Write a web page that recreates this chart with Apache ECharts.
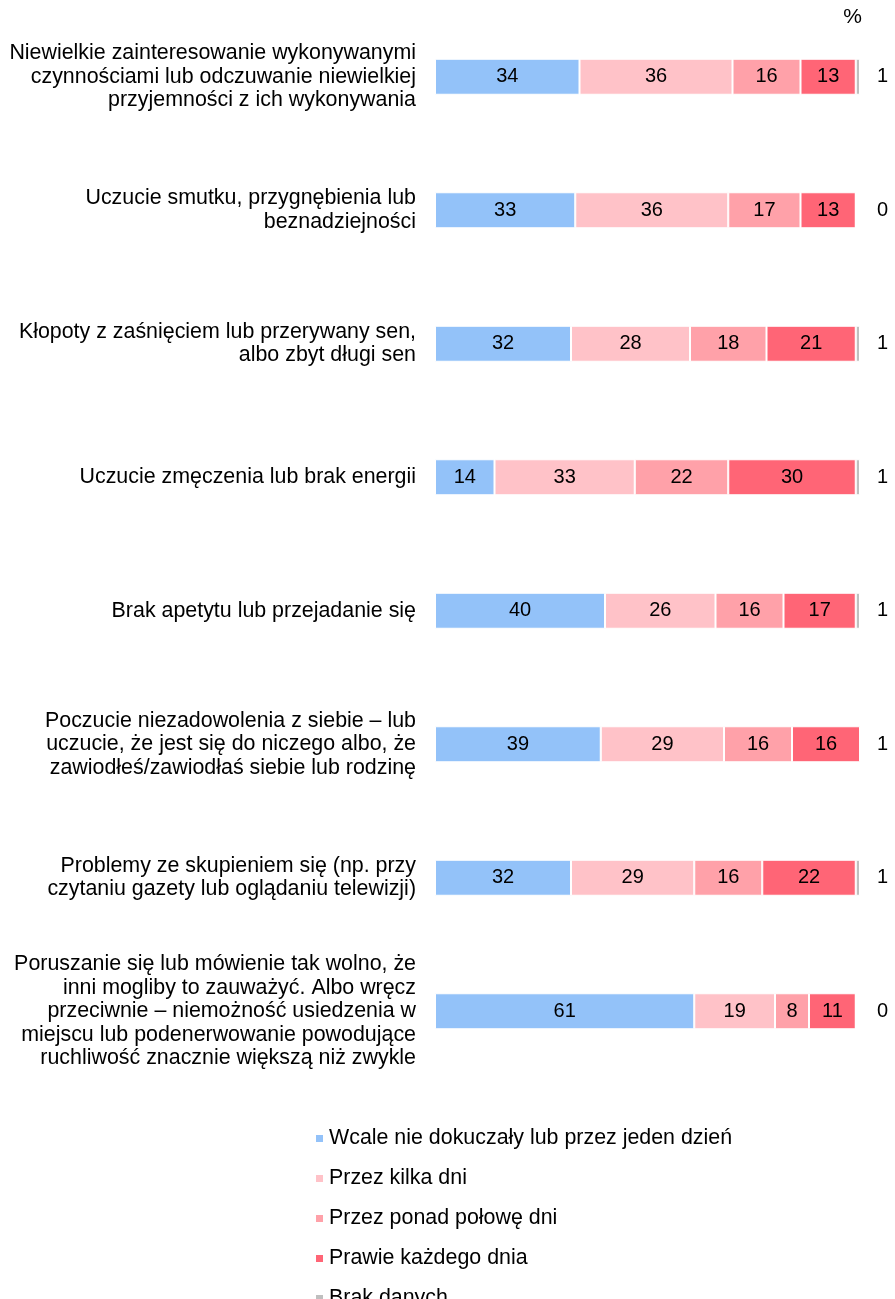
<!DOCTYPE html>
<html>
<head>
<meta charset="utf-8">
<script src="https://cdn.jsdelivr.net/npm/echarts@6/dist/echarts.min.js"></script>
<style>
  html, body { margin: 0; padding: 0; background: #fff; }
  #chart { width: 895px; height: 1299px; }
</style>
</head>
<body>
<div id="chart"></div>
<script>
// Symptom statements (top to bottom)
const categories = [
  'Niewielkie zainteresowanie wykonywanymi\nczynnościami lub odczuwanie niewielkiej\nprzyjemności z ich wykonywania',
  'Uczucie smutku, przygnębienia lub\nbeznadziejności',
  'Kłopoty z zaśnięciem lub przerywany sen,\nalbo zbyt długi sen',
  'Uczucie zmęczenia lub brak energii',
  'Brak apetytu lub przejadanie się',
  'Poczucie niezadowolenia z siebie – lub\nuczucie, że jest się do niczego albo, że\nzawiodłeś/zawiodłaś siebie lub rodzinę',
  'Problemy ze skupieniem się (np. przy\nczytaniu gazety lub oglądaniu telewizji)',
  'Poruszanie się lub mówienie tak wolno, że\ninni mogliby to zauważyć. Albo wręcz\nprzeciwnie – niemożność usiedzenia w\nmiejscu lub podenerwowanie powodujące\nruchliwość znacznie większą niż zwykle'
];

const seriesNames = [
  'Wcale nie dokuczały lub przez jeden dzień',
  'Przez kilka dni',
  'Przez ponad połowę dni',
  'Prawie każdego dnia',
  'Brak danych'
];

// Percent of respondents per answer
const notAtAll    = [34, 33, 32, 14, 40, 39, 32, 61];
const severalDays = [36, 36, 28, 33, 26, 29, 29, 19];
const overHalf    = [16, 17, 18, 22, 16, 16, 16, 8];
const nearlyDaily = [13, 13, 21, 30, 17, 16, 22, 11];
const noData      = [1, 0, 1, 1, 1, 1, 1, 0];

const colors = ['#93C2F9', '#FFC2C8', '#FFA1A9', '#FF6576', '#BFBFBF'];
const values = [notAtAll, severalDays, overHalf, nearlyDaily, noData];

const font = 'Liberation Sans, Arial, sans-serif';

const chart = echarts.init(document.getElementById('chart'), null, { renderer: 'canvas' });

const series = values.map((arr, i) => ({
  name: seriesNames[i],
  type: 'bar',
  stack: 'total',
  barWidth: 36,
  data: arr,
  itemStyle: { color: colors[i], borderColor: '#ffffff', borderWidth: 1 },
  label: {
    show: i < 4,
    position: 'inside',
    color: '#000',
    fontFamily: font,
    fontSize: 20
  },
  emphasis: { disabled: true }
}));

chart.setOption({
  animation: false,
  color: colors,
  title: {
    text: '%',
    right: 33,
    top: 7,
    padding: 0,
    textStyle: { fontFamily: font, fontSize: 21, fontWeight: 'normal', color: '#000' }
  },
  grid: { left: 435, right: 35, top: 10, bottom: 221, containLabel: false },
  xAxis: {
    type: 'value',
    min: 0,
    max: 100,
    show: false
  },
  yAxis: [
    {
      type: 'category',
      data: categories,
      inverse: true,
      axisLine: { show: false },
      axisTick: { show: false },
      axisLabel: {
        margin: 19,
        color: '#000',
        fontFamily: font,
        fontSize: 21.4,
        lineHeight: 23.5,
        align: 'right'
      }
    },
    {
      type: 'category',
      data: categories,
      inverse: true,
      position: 'right',
      axisLine: { show: false },
      axisTick: { show: false },
      axisLabel: {
        margin: 17,
        color: '#000',
        fontFamily: font,
        fontSize: 20,
        align: 'left',
        formatter: (v, idx) => String(noData[idx])
      }
    }
  ],
  legend: {
    orient: 'vertical',
    left: 314,
    top: 1128,
    height: 300,
    padding: 0,
    itemWidth: 9,
    itemHeight: 9,
    itemGap: 19,
    icon: 'rect',
    textStyle: { fontFamily: font, fontSize: 21.4, color: '#000', lineHeight: 20 },
    data: seriesNames
  },
  series: series
});
</script>
</body>
</html>
